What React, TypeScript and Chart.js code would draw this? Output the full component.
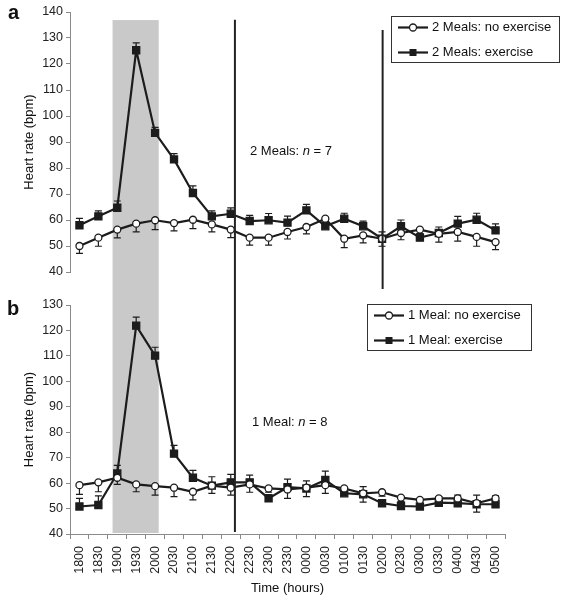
import { useEffect, useRef } from "react";
import { Chart, registerables } from "chart.js";

Chart.register(...registerables);

const times = [
  "1800", "1830", "1900", "1930", "2000", "2030", "2100", "2130", "2200", "2230",
  "2300", "2330", "0000", "0030", "0100", "0130", "0200", "0230", "0300", "0330",
  "0400", "0430", "0500",
];

// Panel a: 2 meals
const twoMealsNoEx = [50, 53.2, 56.3, 58.6, 59.9, 58.8, 60.1, 58.3, 56.3, 53.2, 53.2, 55.4, 57.3, 60.5, 52.8, 54.1, 52.8, 55, 56.3, 54.7, 55.4, 53.5, 51.5];
const twoMealsNoExErr = [2.8, 3.3, 3.2, 3.2, 3.6, 3.0, 3.4, 2.9, 3.1, 2.9, 2.9, 2.7, 2.6, 2.0, 3.4, 2.9, 2.9, 2.6, 1.5, 3.2, 3.5, 3.6, 2.9];
const twoMealsEx = [58, 61.4, 64.7, 125.3, 93.5, 83.3, 70.4, 61.4, 62.4, 59.6, 59.9, 59.0, 63.7, 57.6, 60.5, 57.6, 52.8, 57.6, 53.2, 55, 58.6, 60.1, 56];
const twoMealsExErr = [2.6, 2.1, 2.6, 2.8, 2.1, 2.2, 2.7, 2.1, 2.3, 2.2, 2.6, 2.5, 2.3, 1.5, 2.1, 2.0, 2.6, 2.4, 1.5, 2.3, 2.8, 2.5, 2.5];

// Panel b: 1 meal
const oneMealNoEx = [59.2, 60.3, 62.1, 59.5, 58.8, 58.2, 56.6, 59, 58.2, 59.5, 57.9, 57.5, 58.2, 59.2, 57.9, 56, 56.4, 54.3, 53.4, 54, 54, 52.1, 54];
const oneMealNoExErr = [3.6, 3.7, 2.6, 2.9, 3.5, 3.5, 3.2, 3.0, 2.9, 3.1, 1.5, 3.5, 3.5, 3.2, 2.0, 3.5, 1.5, 1.5, 1.5, 1.5, 1.5, 3.5, 1.5];
const oneMealEx = [50.8, 51.4, 63.8, 121.9, 110.1, 71.6, 62.1, 59, 60.3, 60.3, 54, 58.4, 57.9, 61.2, 56, 55.6, 52.1, 51, 50.8, 52.3, 52.1, 51.7, 51.7];
const oneMealExErr = [3.2, 3.6, 3.2, 3.3, 3.3, 3.2, 2.9, 3.5, 3.1, 2.8, 1.5, 3.2, 3.0, 3.5, 2.0, 3.0, 1.0, 1.0, 1.0, 2.4, 3.2, 3.6, 3.3];

const topTickValues = [40, 50, 60, 70, 80, 90, 100, 110, 120, 130, 140];
const bottomTickValues = [40, 50, 60, 70, 80, 90, 100, 110, 120, 130];

// Annotations in data units (category index / bpm)
const exerciseBand = { from: 1.75, to: 4.19, top: 136.9, bottom: 40.4 };
const lightsOutLine = { at: 8.22, topA: 137, bottomB: 40.8 };
const wakeLine = { at: 16.03, topA: 133.1, bottomA: 33.5 };

const legendA = ["2 Meals: no exercise", "2 Meals: exercise"];
const legendB = ["1 Meal: no exercise", "1 Meal: exercise"];

const FONT = "'Liberation Sans', Arial, Helvetica, sans-serif";
const INK = "#1c1c1c";
const AXIS = "#8a8a8a";

function drawMarker(ctx: CanvasRenderingContext2D, kind: string, x: number, y: number) {
  ctx.save();
  ctx.lineWidth = 1.3;
  ctx.strokeStyle = INK;
  if (kind === "circle") {
    ctx.fillStyle = "#fff";
    ctx.beginPath();
    ctx.arc(x, y, 3.5, 0, Math.PI * 2);
    ctx.fill();
    ctx.stroke();
  } else {
    ctx.fillStyle = INK;
    ctx.fillRect(x - 3.5, y - 3.5, 7, 7);
  }
  ctx.restore();
}

const overlayPlugin = {
  id: "overlay",
  beforeDatasetsDraw(chart: any) {
    const { ctx, scales } = chart;
    const x = scales.x, yA = scales.yA, yB = scales.yB;
    ctx.save();
    const x1 = x.getPixelForValue(exerciseBand.from);
    const x2 = x.getPixelForValue(exerciseBand.to);
    const t = yA.getPixelForValue(exerciseBand.top);
    const b = yB.getPixelForValue(exerciseBand.bottom);
    ctx.fillStyle = "#c9c9c9";
    ctx.fillRect(x1, t, x2 - x1, b - t);
    chart.data.datasets.forEach((ds: any, di: number) => {
      const meta = chart.getDatasetMeta(di);
      const ys = scales[ds.yAxisID];
      ctx.strokeStyle = INK;
      ctx.lineWidth = 1.2;
      meta.data.forEach((pt: any, i: number) => {
        const v = ds.data[i];
        const e = ds.errors[i];
        const yy = ys.getPixelForValue(v + ds.errDir * e);
        ctx.beginPath();
        ctx.moveTo(pt.x, pt.y);
        ctx.lineTo(pt.x, yy);
        ctx.moveTo(pt.x - 3.5, yy);
        ctx.lineTo(pt.x + 3.5, yy);
        ctx.stroke();
      });
    });
    ctx.restore();
  },
  afterDatasetsDraw(chart: any) {
    const { ctx, scales } = chart;
    const x = scales.x, yA = scales.yA, yB = scales.yB;
    ctx.save();
    ctx.strokeStyle = "#222";
    ctx.lineWidth = 2;
    let px = x.getPixelForValue(lightsOutLine.at);
    ctx.beginPath();
    ctx.moveTo(px, yA.getPixelForValue(lightsOutLine.topA));
    ctx.lineTo(px, yB.getPixelForValue(lightsOutLine.bottomB));
    ctx.stroke();
    px = x.getPixelForValue(wakeLine.at);
    ctx.beginPath();
    ctx.moveTo(px, yA.getPixelForValue(wakeLine.topA));
    ctx.lineTo(px, yA.getPixelForValue(wakeLine.bottomA));
    ctx.stroke();
    ctx.restore();
  },
  afterDraw(chart: any) {
    const { ctx, scales } = chart;
    const yA = scales.yA, yB = scales.yB, x = scales.x;
    ctx.save();
    ctx.fillStyle = "#111";
    ctx.font = `bold 20px ${FONT}`;
    ctx.textBaseline = "middle";
    ctx.textAlign = "left";
    ctx.fillText("a", 8, yA.top + 1);
    ctx.fillText("b", 7, yB.top + 4);
    ctx.font = `13px ${FONT}`;
    ctx.textAlign = "center";
    [yA, yB].forEach((s: any) => {
      ctx.save();
      ctx.translate(29, (s.top + s.bottom) / 2);
      ctx.rotate(-Math.PI / 2);
      ctx.fillText("Heart rate (bpm)", 0, 0);
      ctx.restore();
    });
    ctx.fillText("Time (hours)", (x.left + x.right) / 2, 588);
    const drawN = (label: string, n: string, px: number, py: number) => {
      ctx.textAlign = "left";
      ctx.font = `13px ${FONT}`;
      ctx.fillText(label, px, py);
      let w = ctx.measureText(label).width;
      ctx.font = `italic 13px ${FONT}`;
      ctx.fillText("n", px + w, py);
      w += ctx.measureText("n").width;
      ctx.font = `13px ${FONT}`;
      ctx.fillText(" = " + n, px + w, py);
    };
    drawN("2 Meals: ", "7", 250, yA.getPixelForValue(86.3));
    drawN("1 Meal: ", "8", 252, yB.getPixelForValue(83.8));
    const drawLegend = (labels: string[], bx: number, by: number, bw: number, bh: number) => {
      ctx.save();
      ctx.fillStyle = "#fff";
      ctx.fillRect(bx, by, bw, bh);
      ctx.strokeStyle = "#333";
      ctx.lineWidth = 1;
      ctx.strokeRect(bx + 0.5, by + 0.5, bw, bh);
      const kinds = ["circle", "rect"];
      labels.forEach((lab, i) => {
        const ry = by + 11.5 + i * 25;
        ctx.strokeStyle = INK;
        ctx.lineWidth = 2.2;
        ctx.beginPath();
        ctx.moveTo(bx + 7, ry);
        ctx.lineTo(bx + 37, ry);
        ctx.stroke();
        drawMarker(ctx, kinds[i], bx + 22, ry);
        ctx.fillStyle = "#111";
        ctx.font = `13px ${FONT}`;
        ctx.textAlign = "left";
        ctx.textBaseline = "middle";
        ctx.fillText(lab, bx + 41, ry);
      });
      ctx.restore();
    };
    drawLegend(legendA, 391, 16, 168, 46);
    drawLegend(legendB, 367, 304, 164, 46);
    ctx.restore();
  },
};

function yAxis(values: number[], weight: number) {
  return {
    type: "linear" as const,
    position: "left" as const,
    stack: "panels",
    stackWeight: weight,
    min: values[0],
    max: values[values.length - 1],
    afterFit: (s: any) => {
      s.width = 70;
    },
    afterBuildTicks: (s: any) => {
      s.ticks = values.map((v) => ({ value: v }));
    },
    border: { display: true, color: AXIS, width: 1 },
    grid: { display: true, drawOnChartArea: false, drawTicks: true, tickLength: 4, color: AXIS },
    ticks: {
      autoSkip: false,
      padding: 3,
      color: "#222",
      font: { family: FONT, size: 12.5 },
    },
  };
}

export default function App() {
  const ref = useRef<HTMLCanvasElement | null>(null);
  useEffect(() => {
    if (!ref.current) return;
    const lineDs = (label: string, data: number[], errors: number[], axis: string, kind: string, dir: number) => ({
      label,
      data,
      errors,
      errDir: dir,
      yAxisID: axis,
      borderColor: INK,
      borderWidth: 2.2,
      pointStyle: kind,
      pointRadius: kind === "rect" ? 5 : 3.5,
      pointBackgroundColor: kind === "rect" ? INK : "#fff",
      pointBorderColor: INK,
      pointBorderWidth: 1.3,
      tension: 0,
    });
    const chart = new Chart(ref.current, {
      type: "line",
      data: {
        labels: times,
        datasets: [
          lineDs(legendA[0], twoMealsNoEx, twoMealsNoExErr, "yA", "circle", -1),
          lineDs(legendA[1], twoMealsEx, twoMealsExErr, "yA", "rect", 1),
          lineDs(legendB[0], oneMealNoEx, oneMealNoExErr, "yB", "circle", -1),
          lineDs(legendB[1], oneMealEx, oneMealExErr, "yB", "rect", 1),
        ] as any,
      },
      options: {
        responsive: false,
        animation: false,
        layout: { padding: { left: 0, right: 57, top: 12, bottom: 0 } },
        plugins: { legend: { display: false }, tooltip: { enabled: false } },
        scales: {
          x: {
            type: "category",
            offset: true,
            afterFit: (s: any) => {
              s.height = 66;
            },
            border: { display: true, color: AXIS, width: 1 },
            grid: { display: true, offset: true, drawOnChartArea: false, drawTicks: true, tickLength: 5, color: AXIS },
            ticks: {
              autoSkip: false,
              minRotation: 90,
              maxRotation: 90,
              padding: 7,
              color: "#222",
              font: { family: FONT, size: 12.5 },
            },
          },
          yB: yAxis(bottomTickValues, 229),
          yGap: {
            type: "linear",
            position: "left",
            stack: "panels",
            stackWeight: 33,
            afterFit: (s: any) => {
              s.width = 70;
            },
            border: { display: false },
            grid: { display: false },
            ticks: { display: false },
          },
          yA: yAxis(topTickValues, 260),
        } as any,
      },
      plugins: [overlayPlugin],
    });
    return () => chart.destroy();
  }, []);
  return (
    <div style={{ position: "absolute", left: 0, top: 0, width: 562, height: 600, background: "#fff" }}>
      <canvas ref={ref} width={562} height={600} style={{ display: "block" }} />
    </div>
  );
}
